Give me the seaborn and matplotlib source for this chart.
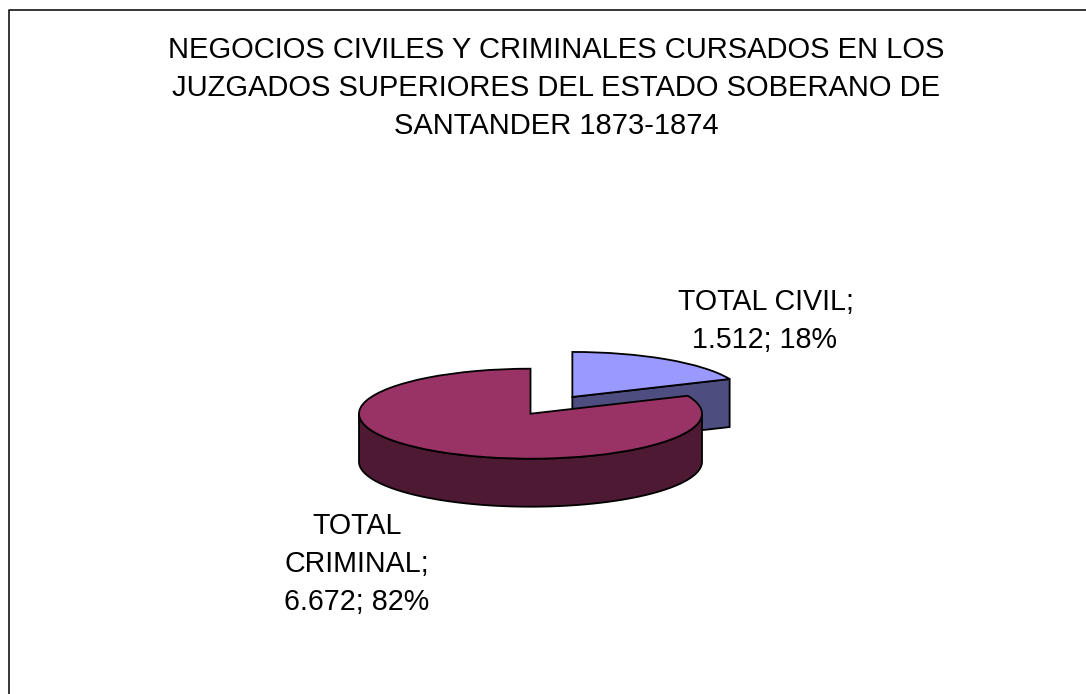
import numpy as np
import matplotlib
matplotlib.use('Agg')
import matplotlib.pyplot as plt
import seaborn as sns

# chart data
title_lines = ['NEGOCIOS CIVILES Y CRIMINALES CURSADOS EN LOS',
               'JUZGADOS SUPERIORES DEL ESTADO SOBERANO DE',
               'SANTANDER 1873-1874']
categories = ['TOTAL CIVIL', 'TOTAL CRIMINAL']
values = [1512, 6672]
value_labels = ['1.512', '6.672']
percents = ['18%', '82%']

sns.set_style("white")
plt.rcParams['font.family'] = ['Liberation Sans', 'DejaVu Sans']

W, H = 1086, 694
fig = plt.figure(figsize=(W / 100, H / 100), dpi=100)
ax = fig.add_axes([0, 0, 1, 1])

# pie layout in pixels
cx, cy = 530.5, 413.7
rx, ry = 171.5, 45
depth = 48 / ry
explode = 0.445

top_colors = ['#9999FF', '#993366']
side_colors = ['#4D4D80', '#4D1933']
lw = 1.3

wedges, _ = ax.pie(values, startangle=90, counterclock=False, explode=[explode, 0],
                   colors=top_colors, wedgeprops={'edgecolor': 'black', 'linewidth': lw})
wedges[0].set_zorder(3)
wedges[1].set_zorder(6)

# unit radius of the pie maps to rx, ry pixels
ax.set_aspect('auto')
ax.set_xlim(-cx / rx, (W - cx) / rx)
ax.set_ylim(-(H - cy) / ry, cy / ry)
ax.axis('off')

# 3d sides, worked out from the shares
civil_angle = 2 * np.pi * values[0] / sum(values)
mid = civil_angle / 2
ox, oy = explode * np.sin(mid), explode * np.cos(mid)
ex, ey = np.sin(civil_angle), np.cos(civil_angle)
ax.fill([ox, ox + ex, ox + ex, ox], [oy, oy + ey, oy + ey - depth, oy - depth],
        facecolor=side_colors[0], edgecolor='black', linewidth=lw, zorder=2)

t = np.linspace(np.pi / 2, 3 * np.pi / 2, 200)
rim_x = np.sin(t)
rim_y = np.cos(t)
ax.fill(np.r_[rim_x, rim_x[::-1]], np.r_[rim_y, rim_y[::-1] - depth],
        facecolor=side_colors[1], edgecolor='black', linewidth=lw, zorder=5)

# text is placed in pixels from the top left
def put(x, y, s, size):
    fig.text(x / W, 1 - y / H, s, fontsize=size, ha='center', va='center', color='black')

for y, line in zip([49.5, 88.5, 126.5], title_lines):
    put(556, y, line, 21)

put(766, 302, categories[0] + ';', 20.6)
put(765, 339.5, '%s; %s' % (value_labels[0], percents[0]), 20.6)
name_a, name_b = categories[1].split(' ')
put(357, 526, name_a, 20.6)
put(357, 564.5, name_b + ';', 20.6)
put(357, 602.5, '%s; %s' % (value_labels[1], percents[1]), 20.6)

# chart frame, left and top only
frame_x = [8.5, 8.5, W]
frame_y = [H, 9.5, 9.5]
fig.add_artist(plt.Line2D([x / W for x in frame_x], [1 - y / H for y in frame_y],
                          color='black', linewidth=1.1))

plt.savefig('out.png', dpi=100, facecolor='white')
